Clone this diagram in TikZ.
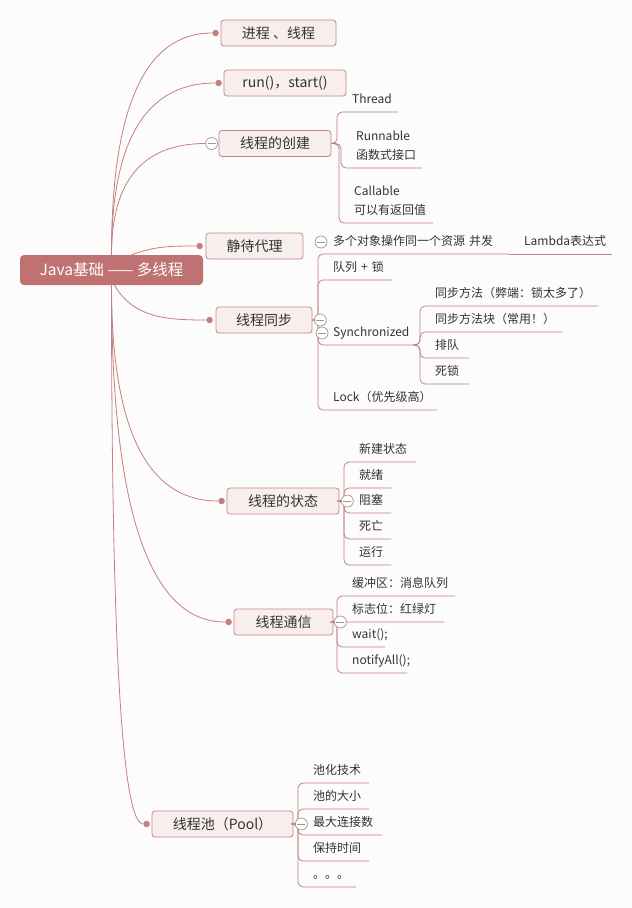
\documentclass[tikz,border=0pt]{standalone}
\usepackage{fontspec}
\setmainfont{Noto Sans CJK SC}
\usepackage{tikz}
\usetikzlibrary{positioning,calc}
\definecolor{paper}{HTML}{FCFCFC}
\definecolor{rootred}{HTML}{C07272}
\definecolor{topicfill}{HTML}{F8EEEE}
\definecolor{topicline}{HTML}{C98585}
\definecolor{limbred}{HTML}{C67E7E}
\definecolor{inkgray}{HTML}{333333}
\definecolor{knobgray}{HTML}{9A9A9A}

\tikzset{
  rootbox/.style={fill=rootred, rounded corners=4pt, text=white, minimum width=183pt, minimum height=30pt, font=\fontsize{15.5}{18}\selectfont},
  topic/.style={draw=topicline, fill=topicfill, rounded corners=3pt, line width=0.8pt, minimum height=26pt, minimum width=#1, inner xsep=0pt, text=inkgray, font=\fontsize{14}{17}\selectfont},
  topic/.default=100pt,
  leaf/.style={anchor=south west, inner xsep=15pt, inner ysep=6pt, text depth=2.5pt, text width=#1, align=left, text=inkgray, font=\fontsize{12}{19}\selectfont},
  twoline/.style={text depth=21.5pt},
  limb/.style={draw=limbred, line width=0.8pt},
  twig/.style={draw=limbred, line width=0.8pt, rounded corners=5pt},
  bud/.style={circle, fill=limbred, minimum size=6.5pt, inner sep=0pt},
  knob/.style={circle, draw=knobgray, fill=white, minimum size=12pt, inner sep=0pt, line width=0.7pt,
    path picture={\draw[knobgray, line width=0.7pt] ([xshift=-4pt]path picture bounding box.center) -- ([xshift=4pt]path picture bounding box.center);}}
}

\begin{document}
\begin{tikzpicture}[x=1pt, y=-1pt]
  \fill[paper] (0,0) rectangle (632,908);
  \useasboundingbox (0,0) rectangle (632,908);

  % centre and main topics
  \node[rootbox] (root) at (111.5,270) {Java基础 —— 多线程};
  \node[topic=115pt] (proc) at (278.5,33) {进程 、线程};
  \node[topic=122pt] (run) at (285,83) {run()，start()};
  \node[topic=112pt] (make) at (275,143.5) {线程的创建};
  \node[topic=97pt] (proxy) at (254.5,246) {静待代理};
  \node[topic=96pt] (sync) at (264,320) {线程同步};
  \node[topic=112pt] (state) at (283,501) {线程的状态};
  \node[topic=99pt] (talk) at (283.5,622) {线程通信};
  \node[topic=141pt] (pool) at (222.5,824) {线程池（Pool）};

  \node[bud] (proc-bud) at ([xshift=-5pt]proc.west) {};
  \node[bud] (run-bud) at ([xshift=-5pt]run.west) {};
  \node[bud] (proxy-bud) at ([xshift=-6pt]proxy.west) {};
  \node[bud] (sync-bud) at ([xshift=-6pt]sync.west) {};
  \node[bud] (state-bud) at ([xshift=-5pt]state.west) {};
  \node[bud] (talk-bud) at ([xshift=-5pt]talk.west) {};
  \node[bud] (pool-bud) at ([xshift=-5pt]pool.west) {};
  \coordinate (make-end) at ([xshift=-13pt]make.west);

  % curved limbs (quadratic, corner at the start column)
  \draw[limb] (root.north) .. controls ($(root.north)!0.667!(root.north |- proc-bud)$) and ($(proc-bud.west)!0.667!(root.north |- proc-bud)$) .. (proc-bud.west);
  \draw[limb] (root.north) .. controls ($(root.north)!0.667!(root.north |- run-bud)$) and ($(run-bud.west)!0.667!(root.north |- run-bud)$) .. (run-bud.west);
  \draw[limb] (root.north) .. controls ($(root.north)!0.667!(root.north |- make-end)$) and ($(make-end)!0.667!(root.north |- make-end)$) .. (make-end);
  \draw[limb] ([xshift=20pt]root.north) to[out=20,in=180] (proxy-bud);
  \draw[limb] ([xshift=3pt]root.south) to[out=-60,in=180] (sync-bud);
  \draw[limb] (root.south) .. controls ($(root.south)!0.667!(root.south |- state-bud)$) and ($(state-bud.west)!0.667!(root.south |- state-bud)$) .. (state-bud.west);
  \draw[limb] (root.south) .. controls ($(root.south)!0.667!(root.south |- talk-bud)$) and ($(talk-bud.west)!0.667!(root.south |- talk-bud)$) .. (talk-bud.west);
  \draw[limb] (root.south) .. controls ($(root.south)!0.667!(root.south |- pool-bud)$) and ($(pool-bud.west)!0.667!(root.south |- pool-bud)$) .. (pool-bud.west);

  % 线程的创建
  \node[leaf=31pt] (thread) at (337,112) {Thread};
  \node[leaf=51pt, twoline] (runnable) at (341,168) {Runnable\\函数式接口};
  \node[leaf=64pt, twoline] (callable) at (339,223) {Callable\\可以有返回值};
  \draw[twig] (make.east) -- (thread.south west |- make.east) -- (thread.south west) -- (thread.south east);
  \draw[twig] (make.east) -- (runnable.south west |- make.east) -- (runnable.south west) -- (runnable.south east);
  \draw[twig] (make.east) -- (callable.south west |- make.east) -- (callable.south west) -- (callable.south east);

  % 线程同步
  \node[leaf=161pt] (shared) at (318,254) {多个对象操作同一个资源~并发};
  \node[leaf=73pt] (lambda) at (509,254) {Lambda表达式};
  \node[leaf=44pt] (queue) at (318,280) {队列~+~锁};
  \node[leaf=67pt] (synch) at (318,345) {Synchronized};
  \node[leaf=89pt] (lock) at (318,410) {Lock（优先级高）};
  \draw[twig] (sync.east) -- (shared.south west |- sync.east) -- (shared.south west) -- (shared.south east);
  \draw[twig] (shared.south east) -- (lambda.south east);
  \draw[twig] (sync.east) -- (queue.south west |- sync.east) -- (queue.south west) -- (queue.south east);
  \draw[twig] (sync.east) -- (synch.south west |- sync.east) -- (synch.south west) -- (synch.south east);
  \draw[twig] (sync.east) -- (lock.south west |- sync.east) -- (lock.south west) -- (lock.south east);

  \node[leaf=148pt] (method) at (420,306) {同步方法（弊端：锁太多了）};
  \node[leaf=112pt] (block) at (420,332) {同步方法块（常用！）};
  \node[leaf=19pt] (line) at (420,358) {排队};
  \node[leaf=19pt] (dead) at (420,384) {死锁};
  \draw[twig] (synch.south east) -- (method.south west |- synch.south east) -- (method.south west) -- (method.south east);
  \draw[twig] (synch.south east) -- (block.south west |- synch.south east) -- (block.south west) -- (block.south east);
  \draw[twig] (synch.south east) -- (line.south west |- synch.south east) -- (line.south west) -- (line.south east);
  \draw[twig] (synch.south east) -- (dead.south west |- synch.south east) -- (dead.south west) -- (dead.south east);

  % 线程的状态
  \node[leaf=42pt] (new) at (344,462) {新建状态};
  \node[leaf=17pt] (ready) at (344,488) {就绪};
  \node[leaf=17pt] (blocked) at (344,513) {阻塞};
  \node[leaf=17pt] (over) at (344,539) {死亡};
  \node[leaf=17pt] (running) at (344,565) {运行};
  \draw[twig] (state.east) -- (new.south west |- state.east) -- (new.south west) -- (new.south east);
  \draw[twig] (state.east) -- (ready.south west |- state.east) -- (ready.south west) -- (ready.south east);
  \draw[twig] (state.east) -- (blocked.south west |- state.east) -- (blocked.south west) -- (blocked.south east);
  \draw[twig] (state.east) -- (over.south west |- state.east) -- (over.south west) -- (over.south east);
  \draw[twig] (state.east) -- (running.south west |- state.east) -- (running.south west) -- (running.south east);

  % 线程通信
  \node[leaf=88pt] (buffer) at (337,596) {缓冲区：消息队列};
  \node[leaf=77pt] (flag) at (337,622) {标志位：红绿灯};
  \node[leaf=18pt] (wait) at (337,647) {wait();};
  \node[leaf=40pt] (notify) at (337,673) {notifyAll();};
  \draw[twig] (talk.east) -- (buffer.south west |- talk.east) -- (buffer.south west) -- (buffer.south east);
  \draw[twig] (talk.east) -- (flag.south west |- talk.east) -- (flag.south west) -- (flag.south east);
  \draw[twig] (talk.east) -- (wait.south west |- talk.east) -- (wait.south west) -- (wait.south east);
  \draw[twig] (talk.east) -- (notify.south west |- talk.east) -- (notify.south west) -- (notify.south east);

  % 线程池
  \node[leaf=41pt] (pooling) at (298,783) {池化技术};
  \node[leaf=41pt] (size) at (298,809) {池的大小};
  \node[leaf=54pt] (maxconn) at (298,835) {最大连接数};
  \node[leaf=41pt] (keep) at (298,861) {保持时间};
  \node[leaf=28pt] (etc) at (298,887) {。。。};
  \draw[twig] (pool.east) -- (pooling.south west |- pool.east) -- (pooling.south west) -- (pooling.south east);
  \draw[twig] (pool.east) -- (size.south west |- pool.east) -- (size.south west) -- (size.south east);
  \draw[twig] (pool.east) -- (maxconn.south west |- pool.east) -- (maxconn.south west) -- (maxconn.south east);
  \draw[twig] (pool.east) -- (keep.south west |- pool.east) -- (keep.south west) -- (keep.south east);
  \draw[twig] (pool.east) -- (etc.south west |- pool.east) -- (etc.south west) -- (etc.south east);

  % collapse marks
  \node[knob] (make-knob) at ([xshift=-7pt]make.west) {};
  \node[knob] (sync-knob) at ([xshift=8pt]sync.east) {};
  \node[knob] (shared-knob) at (321,242) {};
  \node[knob] (synch-knob) at (322,333) {};
  \node[knob] (state-knob) at ([xshift=8pt]state.east) {};
  \node[knob] (talk-knob) at ([xshift=7pt]talk.east) {};
  \node[knob] (pool-knob) at ([xshift=8pt]pool.east) {};
\end{tikzpicture}
\end{document}
